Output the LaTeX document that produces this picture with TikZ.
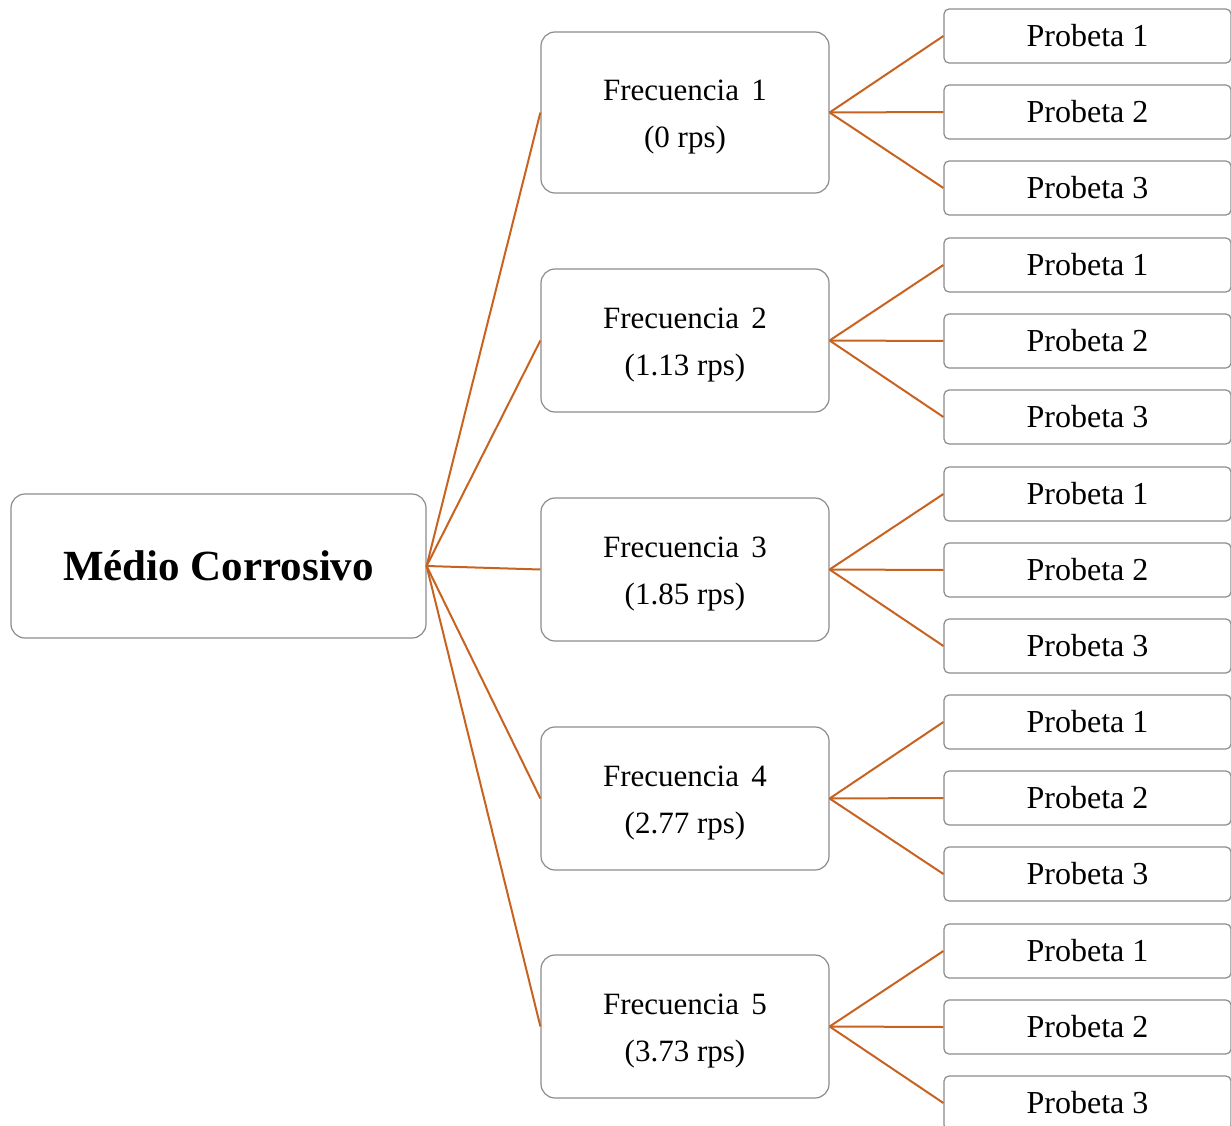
\documentclass[tikz,border=0pt]{standalone}
\usepackage{fontspec}
\setmainfont{Liberation Serif}
\newcommand{\topstrut}{\rule{0pt}{29pt}}
\begin{document}
\begin{tikzpicture}[x=1pt,y=-1pt,
  box/.style={draw=boxgray,line width=1.2pt,fill=white,rounded corners=#1,inner sep=0pt},
  rootbox/.style={box=14pt,minimum width=415pt,minimum height=144pt,font=\fontsize{43}{50}\selectfont\bfseries},
  freqbox/.style={box=14pt,minimum width=288pt,minimum height=143pt,align=center,font=\fontsize{31}{47}\selectfont},
  probbox/.style={box=5pt,minimum width=287pt,minimum height=54pt,font=\fontsize{32}{36}\selectfont},
  link/.style={draw=linkorange,line width=2pt}]
\definecolor{boxgray}{RGB}{140,140,140}
\definecolor{linkorange}{RGB}{200,98,32}
\useasboundingbox (0,0) rectangle (1231,1126);
\node[rootbox] (root) at (218.5,566) {Médio Corrosivo};
\node[freqbox,minimum height=161pt] (f1) at (685,112.5) {\topstrut Frecuencia\hspace{0.4em}1\\(0 rps)};
\node[freqbox] (f2) at (685,340.5) {\topstrut Frecuencia\hspace{0.4em}2\\(1.13 rps)};
\node[freqbox] (f3) at (685,569.5) {\topstrut Frecuencia\hspace{0.4em}3\\(1.85 rps)};
\node[freqbox] (f4) at (685,798.5) {\topstrut Frecuencia\hspace{0.4em}4\\(2.77 rps)};
\node[freqbox] (f5) at (685,1026.5) {\topstrut Frecuencia\hspace{0.4em}5\\(3.73 rps)};
\foreach \g/\c in {1/36,2/265,3/494,4/722,5/951}{
  \node[probbox] (p\g a) at (1087.5,\c) {Probeta 1};
  \node[probbox] (p\g b) at (1087.5,\c+76) {Probeta 2};
  \node[probbox] (p\g c) at (1087.5,\c+152) {Probeta 3};
}
\foreach \g in {1,...,5}{
  \draw[link] (root.east) -- (f\g.west);
  \draw[link] (f\g.east) -- (p\g a.west);
  \draw[link] (f\g.east) -- (p\g b.west);
  \draw[link] (f\g.east) -- (p\g c.west);
}
\end{tikzpicture}
\end{document}
